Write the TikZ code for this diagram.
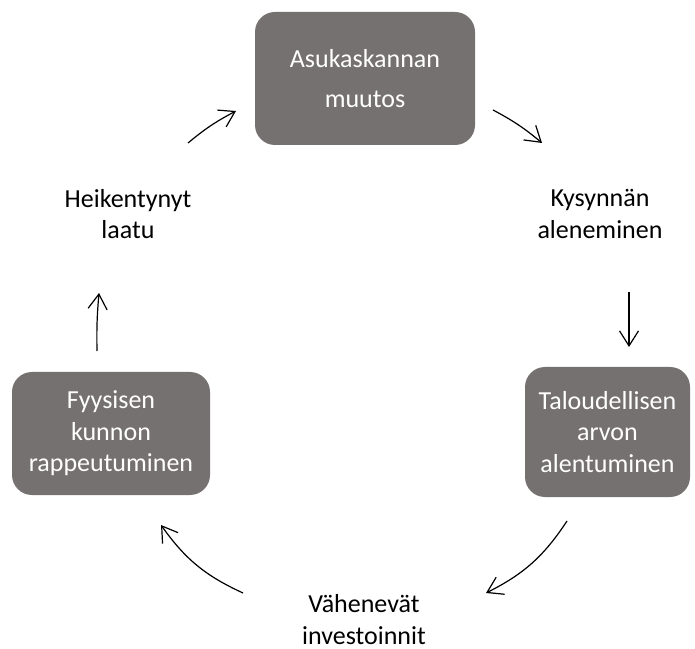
\documentclass[tikz,border=0pt]{standalone}
\usepackage{fontspec}
\setmainfont{Carlito}
\usetikzlibrary{arrows.meta}

\definecolor{boxgray}{HTML}{767171}

\tikzset{
  box/.style={fill=boxgray, text=white, rounded corners=20pt, align=center, inner sep=0pt},
  plain/.style={align=center, inner sep=0pt},
  cyc/.style={-{Straight Barb[length=15pt,width=19pt]}, line width=1.2pt, black}
}

\begin{document}
\begin{tikzpicture}[x=1pt, y=1pt, font=\fontsize{26}{31.5}\selectfont]
    \useasboundingbox (0,0) rectangle (695,648);

    % Boxes
    \node[box, minimum width=220pt, minimum height=133pt] (muutos) at (365,569.5) {Asukaskannan\\[9pt]muutos};
    \node[box, minimum width=165pt, minimum height=130pt] (arvo) at (607.5,216) {Taloudellisen\\arvon\\alentuminen};
    \node[box, minimum width=198pt, minimum height=123pt] (kunto) at (111,214.5) {Fyysisen\\kunnon\\rappeutuminen};

    % Labels without box
    \node[plain] (kysynta) at (600,434) {Kysynnän\\aleneminen};
    \node[plain] (invest) at (364,28.5) {Vähenevät\\investoinnit};
    \node[plain] (laatu) at (128,434) {Heikentynyt\\laatu};

    % Arrow ends
    \coordinate (a1s) at (188,505); \coordinate (a1e) at (236,537);
    \coordinate (a2s) at (493,538); \coordinate (a2e) at (542,505);
    \coordinate (a3s) at (629,356); \coordinate (a3e) at (629,301);
    \coordinate (a4s) at (567,127); \coordinate (a4e) at (486,55);
    \coordinate (a5s) at (243,55);  \coordinate (a5e) at (161,123);
    \coordinate (a6s) at (97,297);  \coordinate (a6e) at (99,355);

    % Cycle arrows
    \draw[cyc] (a1s) to[bend left=6] (a1e);
    \draw[cyc] (a2s) to[bend left=6] (a2e);
    \draw[cyc] (a3s) -- (a3e);
    \draw[cyc] (a4s) to[bend left=15] (a4e);
    \draw[cyc] (a5s) to[bend left=15] (a5e);
    \draw[cyc] (a6s) to[bend left=3] (a6e);
\end{tikzpicture}
\end{document}
